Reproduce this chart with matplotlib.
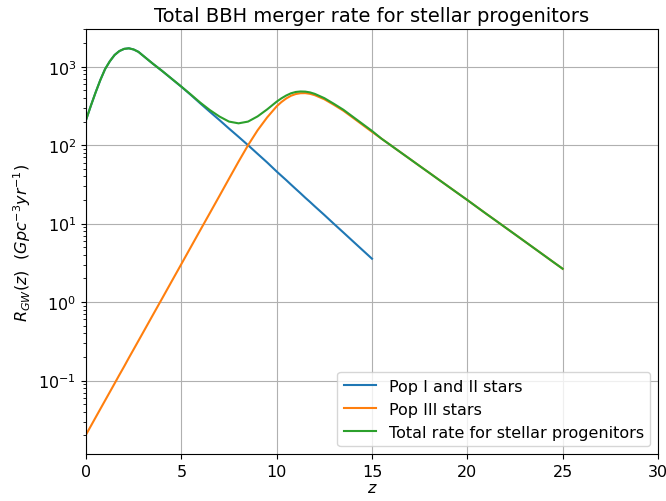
import matplotlib
matplotlib.use('Agg')
import matplotlib.pyplot as plt

plt.rcParams['font.size'] = 11.5

# redshift grid and merger rates in Gpc^-3 yr^-1
z_pop12 = [0, 0.25, 0.5, 0.75, 1.0, 1.25, 1.5, 1.75, 2.0, 2.25, 2.5, 2.75, 3.0,
           3.5, 4.0, 4.5, 5.0, 5.5, 6.0, 6.5, 7.0, 7.5, 8.0, 8.5, 9.0, 9.5, 10,
           10.25, 10.5, 10.75, 11, 11.25, 11.5, 11.75, 12,
           12.5, 13, 13.5, 14, 14.5, 15]
rate_pop12 = [209, 316, 468, 676, 933, 1175, 1413, 1585, 1690, 1718, 1660, 1549, 1380,
              1096, 881, 700, 556, 437, 340, 266, 209, 163, 128, 100, 77.6, 60.3, 46.2,
              40.7, 35.9, 31.5, 27.7, 24.4, 21.4, 18.9, 16.6,
              12.9, 9.95, 7.71, 5.96, 4.61, 3.57]

z_all = z_pop12 + [15.5, 16, 16.5, 17, 17.5, 18, 18.5, 19, 19.5, 20,
                   20.5, 21, 21.5, 22, 22.5, 23, 23.5, 24, 24.5, 25]
rate_pop3 = [0.0204, 0.0262, 0.0337, 0.0433, 0.0556, 0.0714, 0.0917, 0.118, 0.151,
             0.195, 0.250, 0.321, 0.412,
             0.680, 1.12, 1.85, 3.05, 5.04, 8.32, 13.7, 22.6, 37.4, 61.7, 100, 155, 226, 313,
             355, 394, 427, 449, 460, 461, 452, 434,
             385, 327, 275, 224, 182, 148,
             121, 99.1, 81.1, 66.4, 54.3, 44.5, 36.4, 29.8, 24.4, 20.0,
             16.3, 13.3, 10.9, 8.91, 7.29, 5.96, 4.87, 3.98, 3.25, 2.66]
rate_total = [209, 316, 468, 676, 933, 1175, 1413, 1585, 1690, 1718, 1660, 1549, 1380,
              1097, 882, 702, 559, 442, 348, 280, 232, 200, 190, 200, 233, 286, 359,
              396, 430, 459, 477, 484, 482, 471, 451,
              398, 337, 283, 230, 187, 152,
              121, 99.1, 81.1, 66.4, 54.3, 44.5, 36.4, 29.8, 24.4, 20.0,
              16.3, 13.3, 10.9, 8.91, 7.29, 5.96, 4.87, 3.98, 3.25, 2.66]

fig = plt.figure(figsize=(6.66, 5.02), dpi=100)
ax = fig.add_axes([86/666, 1 - 455/502, (658 - 86)/666, (455 - 30)/502])

ax.plot(z_pop12, rate_pop12, label='Pop I and II stars')
ax.plot(z_all, rate_pop3, label='Pop III stars')
ax.plot(z_all, rate_total, label='Total rate for stellar progenitors')

ax.set_yscale('log')
ax.set_xlim(0, 30)
ax.grid(True)
ax.set_title('Total BBH merger rate for stellar progenitors', fontsize=14)
ax.set_xlabel('$z$', labelpad=1)
ax.set_ylabel('$R_{GW}(z)$  $(Gpc^{-3} yr^{-1})$')
ax.legend(loc='lower right', fontsize=11.5)

fig.savefig('out.png', dpi=100)
